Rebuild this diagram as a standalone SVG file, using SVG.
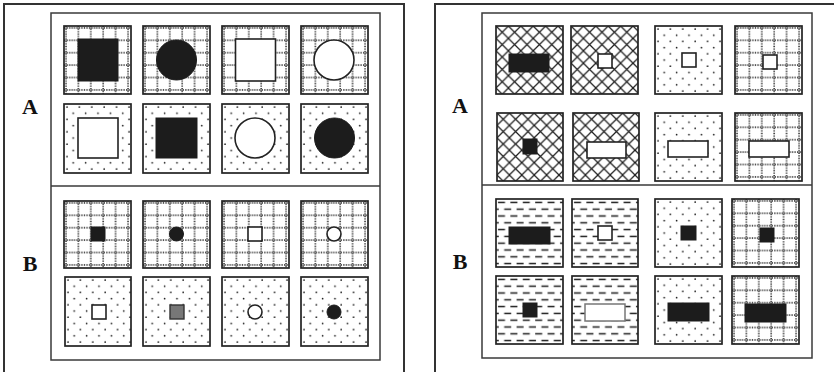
<svg xmlns="http://www.w3.org/2000/svg" width="834" height="372" viewBox="0 0 834 372">
<defs>
<pattern id="grid" patternUnits="userSpaceOnUse" width="12.4" height="12.4">
<rect width="12.4" height="12.4" fill="#fff"/>
<line x1="2" y1="0" x2="2" y2="12.4" stroke="#1a1a1a" stroke-width="1.4" stroke-dasharray="1.3 1.18"/>
<line x1="0" y1="2" x2="12.4" y2="2" stroke="#1a1a1a" stroke-width="1.4" stroke-dasharray="1.3 1.18"/>
</pattern>
<pattern id="dots" patternUnits="userSpaceOnUse" width="12.4" height="12.4">
<rect width="12.4" height="12.4" fill="#fff"/>
<circle cx="3" cy="3" r="0.85" fill="#1a1a1a"/>
<circle cx="9.2" cy="9.2" r="0.85" fill="#1a1a1a"/>
</pattern>
<pattern id="cross" patternUnits="userSpaceOnUse" width="12.4" height="12.4">
<rect width="12.4" height="12.4" fill="#fff"/>
<path d="M0 0L12.4 12.4M0 12.4L12.4 0" stroke="#1e1e1e" stroke-width="1.25" fill="none"/>
</pattern>
<pattern id="dash" patternUnits="userSpaceOnUse" width="12.4" height="13.6">
<rect width="12.4" height="13.6" fill="#fff"/>
<path d="M2 3.4H9M8.2 10.2H12.4M0 10.2H2.8" stroke="#1a1a1a" stroke-width="1.6" fill="none"/>
</pattern>
</defs>
<style>
.frame{fill:none;stroke:#333;stroke-width:2}
.inner{fill:none;stroke:#3a3a3a;stroke-width:1.5}
.box{stroke:#222;stroke-width:1.7}
.g{fill:url(#grid)}
.d{fill:url(#dots)}
.c{fill:url(#cross)}
.h{fill:url(#dash)}
.blk{fill:#1c1c1c;stroke:#1c1c1c;stroke-width:1}
.wht{fill:#fff;stroke:#222;stroke-width:1.6}
.gry{fill:#777;stroke:#333;stroke-width:1.4}
.wg{fill:#fff;stroke:#777;stroke-width:1.5}
.lbl{font-family:"Liberation Serif","Times New Roman",serif;font-weight:bold;font-size:22px;fill:#111}
</style>
<rect width="834" height="372" fill="#fff"/>
<g id="frames">
<rect class="frame" x="4" y="4" width="400" height="380"/>
<rect class="inner" x="51" y="13" width="329" height="347"/>
<line class="inner" x1="51" y1="186" x2="380" y2="186"/>
<rect class="frame" x="435" y="4" width="420" height="380"/>
<rect class="inner" x="482" y="13" width="330" height="345"/>
<line class="inner" x1="482" y1="185" x2="812" y2="185"/>
</g>
<g id="labels">
<text class="lbl" x="30" y="114" text-anchor="middle">A</text>
<text class="lbl" x="30" y="271" text-anchor="middle">B</text>
<text class="lbl" x="460" y="113" text-anchor="middle">A</text>
<text class="lbl" x="460" y="269" text-anchor="middle">B</text>
</g>
<g id="left-A">
<g id="LA11" transform="translate(64,26)"><rect class="box g" width="67" height="68"/><rect class="blk" x="14" y="13" width="40" height="42"/></g>
<g id="LA12" transform="translate(143,26)"><rect class="box g" width="67" height="68"/><circle class="blk" cx="33.5" cy="34" r="20"/></g>
<g id="LA13" transform="translate(222,26)"><rect class="box g" width="67" height="68"/><rect class="wht" x="13.5" y="13" width="40" height="42"/></g>
<g id="LA14" transform="translate(301,26)"><rect class="box g" width="67" height="68"/><circle class="wht" cx="33" cy="34" r="20"/></g>
<g id="LA21" transform="translate(64,104)"><rect class="box d" width="67" height="69"/><rect class="wht" x="14" y="14" width="40" height="40"/></g>
<g id="LA22" transform="translate(143,104)"><rect class="box d" width="67" height="69"/><rect class="blk" x="13" y="14" width="41" height="40"/></g>
<g id="LA23" transform="translate(222,104)"><rect class="box d" width="67" height="69"/><circle class="wht" cx="33" cy="34" r="20"/></g>
<g id="LA24" transform="translate(301,104)"><rect class="box d" width="67" height="69"/><circle class="blk" cx="33.5" cy="34" r="20"/></g>
</g>
<g id="left-B">
<g id="LB11" transform="translate(64,201)"><rect class="box g" width="67" height="67"/><rect class="blk" x="27" y="26" width="14" height="14"/></g>
<g id="LB12" transform="translate(143,201)"><rect class="box g" width="67" height="67"/><circle class="blk" cx="33.5" cy="33" r="7"/></g>
<g id="LB13" transform="translate(222,201)"><rect class="box g" width="67" height="67"/><rect class="wht" x="26" y="26" width="14" height="14"/></g>
<g id="LB14" transform="translate(301,201)"><rect class="box g" width="67" height="67"/><circle class="wht" cx="33" cy="33" r="7"/></g>
<g id="LB21" transform="translate(65,277)"><rect class="box d" width="66" height="69"/><rect class="wht" x="27" y="28" width="14" height="14"/></g>
<g id="LB22" transform="translate(143,277)"><rect class="box d" width="67" height="69"/><rect class="gry" x="27" y="28" width="14" height="14"/></g>
<g id="LB23" transform="translate(222,277)"><rect class="box d" width="67" height="69"/><circle class="wht" cx="33" cy="35" r="7"/></g>
<g id="LB24" transform="translate(301,277)"><rect class="box d" width="67" height="69"/><circle class="blk" cx="33" cy="35" r="7"/></g>
</g>
<g id="right-A">
<g id="RA11" transform="translate(496,26)"><rect class="box c" width="67" height="68"/><rect class="blk" x="13" y="28" width="40" height="18"/></g>
<g id="RA12" transform="translate(571,26)"><rect class="box c" width="67" height="68"/><rect class="wht" x="27" y="28" width="14" height="14"/></g>
<g id="RA13" transform="translate(655,26)"><rect class="box d" width="67" height="68"/><rect class="wht" x="27" y="27" width="14" height="14"/></g>
<g id="RA14" transform="translate(735,26)"><rect class="box g" width="67" height="68"/><rect class="wht" x="28" y="29" width="14" height="14"/></g>
<g id="RA21" transform="translate(497,113)"><rect class="box c" width="66" height="68"/><rect class="blk" x="26" y="26" width="14" height="15"/></g>
<g id="RA22" transform="translate(573,113)"><rect class="box c" width="66" height="68"/><rect class="wht" x="14" y="29" width="39" height="16"/></g>
<g id="RA23" transform="translate(655,113)"><rect class="box d" width="67" height="68"/><rect class="wht" x="13" y="28" width="40" height="16"/></g>
<g id="RA24" transform="translate(735,113)"><rect class="box g" width="67" height="68"/><rect class="wht" x="14" y="28" width="40" height="16"/></g>
</g>
<g id="right-B">
<g id="RB11" transform="translate(496,199)"><rect class="box h" width="67" height="68"/><rect class="blk" x="13" y="28" width="41" height="17"/></g>
<g id="RB12" transform="translate(572,199)"><rect class="box h" width="66" height="68"/><rect class="wht" x="26" y="27" width="14" height="14"/></g>
<g id="RB13" transform="translate(655,199)"><rect class="box d" width="67" height="68"/><rect class="blk" x="26" y="27" width="15" height="14"/></g>
<g id="RB14" transform="translate(732,199)"><rect class="box g" width="67" height="68"/><rect class="blk" x="28" y="29" width="14" height="14"/></g>
<g id="RB21" transform="translate(496,276)"><rect class="box h" width="67" height="68"/><rect class="blk" x="27" y="27" width="14" height="14"/></g>
<g id="RB22" transform="translate(572,276)"><rect class="box h" width="66" height="68"/><rect class="wg" x="13" y="28" width="40" height="17"/></g>
<g id="RB23" transform="translate(655,276)"><rect class="box d" width="67" height="68"/><rect class="blk" x="13" y="27" width="41" height="18"/></g>
<g id="RB24" transform="translate(732,276)"><rect class="box g" width="67" height="68"/><rect class="blk" x="13" y="28" width="41" height="18"/></g>
</g>
<g id="connectors"/>
</svg>
